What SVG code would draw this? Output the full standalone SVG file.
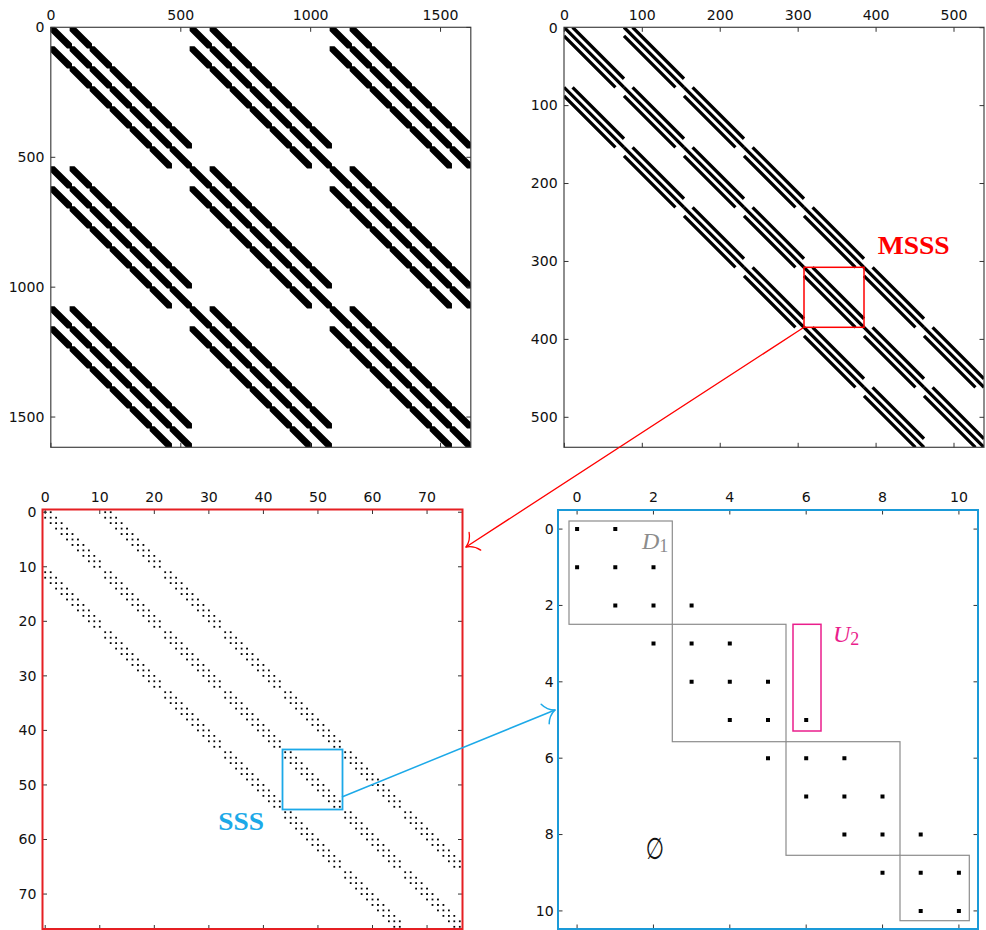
<svg xmlns="http://www.w3.org/2000/svg" xmlns:xlink="http://www.w3.org/1999/xlink" width="986" height="930" viewBox="0 0 986 930">
<style>
.tl{font-family:"DejaVu Sans","Liberation Sans",sans-serif;font-size:14.1px;fill:#111}
.tm{text-anchor:middle}
.te{text-anchor:end}
.frame{fill:none;stroke:#444;stroke-width:1.2}
.tick{fill:none;stroke:#333;stroke-width:1}
</style>
<defs>
<clipPath id="c1"><rect x="50.8" y="27.3" width="420" height="420"/></clipPath>
<clipPath id="c2"><rect x="564" y="27.3" width="420" height="420"/></clipPath>
<path id="hx" d="M0,0H12.5L77,64.5V77H64.5L0,12.5Z"/>
<g id="b539">
<use xlink:href="#hx"/><use xlink:href="#hx" x="77" y="77"/><use xlink:href="#hx" x="154" y="154"/><use xlink:href="#hx" x="231" y="231"/><use xlink:href="#hx" x="308" y="308"/><use xlink:href="#hx" x="385" y="385"/><use xlink:href="#hx" x="462" y="462"/>
<use xlink:href="#hx" x="77" y="0"/><use xlink:href="#hx" x="154" y="77"/><use xlink:href="#hx" x="231" y="154"/><use xlink:href="#hx" x="308" y="231"/><use xlink:href="#hx" x="385" y="308"/><use xlink:href="#hx" x="462" y="385"/>
<use xlink:href="#hx" x="0" y="77"/><use xlink:href="#hx" x="77" y="154"/><use xlink:href="#hx" x="154" y="231"/><use xlink:href="#hx" x="231" y="308"/><use xlink:href="#hx" x="308" y="385"/><use xlink:href="#hx" x="385" y="462"/>
</g>
<path id="l77" d="M0,0L77,77M11,0L77,66M0,11L66,77"/>
<pattern id="pd" patternUnits="userSpaceOnUse" x="0" y="0" width="1" height="1"><rect x="0.335" y="0.335" width="0.33" height="0.33" fill="#000"/></pattern>
</defs>
<rect width="986" height="930" fill="#fff"/>

<g id="panel1">
<g clip-path="url(#c1)">
<g transform="translate(50.8,27.3) scale(0.25974)" fill="#000" stroke="#000" stroke-width="9" stroke-linejoin="miter">
<use xlink:href="#b539"/><use xlink:href="#b539" x="539"/><use xlink:href="#b539" x="1078"/>
<use xlink:href="#b539" y="539"/><use xlink:href="#b539" x="539" y="539"/><use xlink:href="#b539" x="1078" y="539"/>
<use xlink:href="#b539" y="1078"/><use xlink:href="#b539" x="539" y="1078"/><use xlink:href="#b539" x="1078" y="1078"/>
</g>
</g>
<rect class="frame" x="50.8" y="27.3" width="420" height="420"/>
<path class="tick" d="M50.93,27.3v4.5M180.8,27.3v4.5M310.67,27.3v4.5M440.54,27.3v4.5M50.93,447.3v-4.5M180.8,447.3v-4.5M310.67,447.3v-4.5M440.54,447.3v-4.5M50.8,27.43h4.5M50.8,157.3h4.5M50.8,287.17h4.5M50.8,417.04h4.5M470.8,27.43h-4.5M470.8,157.3h-4.5M470.8,287.17h-4.5M470.8,417.04h-4.5"/>
<g class="tl tm"><text x="50.93" y="20.3">0</text><text x="180.8" y="20.3">500</text><text x="310.67" y="20.3">1000</text><text x="440.54" y="20.3">1500</text></g>
<g class="tl te"><text x="44.5" y="32.2">0</text><text x="44.5" y="162.1">500</text><text x="44.5" y="292">1000</text><text x="44.5" y="421.8">1500</text></g>
</g>

<g id="panel2">
<g clip-path="url(#c2)">
<g transform="translate(564,27.3) scale(0.77922)" fill="none" stroke="#000" stroke-width="4.2" stroke-linecap="butt">
<use xlink:href="#l77"/><use xlink:href="#l77" x="77" y="77"/><use xlink:href="#l77" x="154" y="154"/><use xlink:href="#l77" x="231" y="231"/><use xlink:href="#l77" x="308" y="308"/><use xlink:href="#l77" x="385" y="385"/><use xlink:href="#l77" x="462" y="462"/>
<use xlink:href="#l77" x="77" y="0"/><use xlink:href="#l77" x="154" y="77"/><use xlink:href="#l77" x="231" y="154"/><use xlink:href="#l77" x="308" y="231"/><use xlink:href="#l77" x="385" y="308"/><use xlink:href="#l77" x="462" y="385"/>
<use xlink:href="#l77" x="0" y="77"/><use xlink:href="#l77" x="77" y="154"/><use xlink:href="#l77" x="154" y="231"/><use xlink:href="#l77" x="231" y="308"/><use xlink:href="#l77" x="308" y="385"/><use xlink:href="#l77" x="385" y="462"/>
</g>
</g>
<rect class="frame" x="564" y="27.3" width="420" height="420"/>
<path class="tick" d="M564.39,27.3v4.5M642.31,27.3v4.5M720.23,27.3v4.5M798.16,27.3v4.5M876.08,27.3v4.5M954,27.3v4.5M564.39,447.3v-4.5M642.31,447.3v-4.5M720.23,447.3v-4.5M798.16,447.3v-4.5M876.08,447.3v-4.5M954,447.3v-4.5M564,27.69h4.5M564,105.61h4.5M564,183.53h4.5M564,261.46h4.5M564,339.38h4.5M564,417.3h4.5M984,27.69h-4.5M984,105.61h-4.5M984,183.53h-4.5M984,261.46h-4.5M984,339.38h-4.5M984,417.3h-4.5"/>
<g class="tl tm"><text x="564.39" y="20.3">0</text><text x="642.31" y="20.3">100</text><text x="720.23" y="20.3">200</text><text x="798.16" y="20.3">300</text><text x="876.08" y="20.3">400</text><text x="954" y="20.3">500</text></g>
<g class="tl te"><text x="557.7" y="32.5">0</text><text x="557.7" y="110.4">100</text><text x="557.7" y="188.3">200</text><text x="557.7" y="266.3">300</text><text x="557.7" y="344.2">400</text><text x="557.7" y="422.1">500</text></g>
<rect id="msss-box" x="804" y="267.3" width="60" height="60" fill="none" stroke="#f00" stroke-width="1.5"/>
<text x="877.7" y="254" font-family="Liberation Serif,serif" font-weight="bold" font-size="25" textLength="72" lengthAdjust="spacingAndGlyphs" fill="#f00">MSSS</text>
</g>

<g id="panel3">
<g transform="translate(42.5,509.5) scale(5.45454)">
<path fill="url(#pd)" d="M0,0h1.5l9.5,9.5v1.5h-1.5l-9.5,-9.5zM11,11h1.5l9.5,9.5v1.5h-1.5l-9.5,-9.5zM22,22h1.5l9.5,9.5v1.5h-1.5l-9.5,-9.5zM33,33h1.5l9.5,9.5v1.5h-1.5l-9.5,-9.5zM44,44h1.5l9.5,9.5v1.5h-1.5l-9.5,-9.5zM55,55h1.5l9.5,9.5v1.5h-1.5l-9.5,-9.5zM66,66h1.5l9.5,9.5v1.5h-1.5l-9.5,-9.5zM11,0h1.5l9.5,9.5v1.5h-1.5l-9.5,-9.5zM22,11h1.5l9.5,9.5v1.5h-1.5l-9.5,-9.5zM33,22h1.5l9.5,9.5v1.5h-1.5l-9.5,-9.5zM44,33h1.5l9.5,9.5v1.5h-1.5l-9.5,-9.5zM55,44h1.5l9.5,9.5v1.5h-1.5l-9.5,-9.5zM66,55h1.5l9.5,9.5v1.5h-1.5l-9.5,-9.5zM0,11h1.5l9.5,9.5v1.5h-1.5l-9.5,-9.5zM11,22h1.5l9.5,9.5v1.5h-1.5l-9.5,-9.5zM22,33h1.5l9.5,9.5v1.5h-1.5l-9.5,-9.5zM33,44h1.5l9.5,9.5v1.5h-1.5l-9.5,-9.5zM44,55h1.5l9.5,9.5v1.5h-1.5l-9.5,-9.5zM55,66h1.5l9.5,9.5v1.5h-1.5l-9.5,-9.5z"/>
</g>
<path class="tick" d="M45.23,509.5v4.5M99.77,509.5v4.5M154.32,509.5v4.5M208.86,509.5v4.5M263.41,509.5v4.5M317.95,509.5v4.5M372.5,509.5v4.5M427.05,509.5v4.5M45.23,929.5v-4.5M99.77,929.5v-4.5M154.32,929.5v-4.5M208.86,929.5v-4.5M263.41,929.5v-4.5M317.95,929.5v-4.5M372.5,929.5v-4.5M427.05,929.5v-4.5M42.5,512.23h4.5M42.5,566.77h4.5M42.5,621.32h4.5M42.5,675.86h4.5M42.5,730.41h4.5M42.5,784.95h4.5M42.5,839.5h4.5M42.5,894.05h4.5M462.5,512.23h-4.5M462.5,566.77h-4.5M462.5,621.32h-4.5M462.5,675.86h-4.5M462.5,730.41h-4.5M462.5,784.95h-4.5M462.5,839.5h-4.5M462.5,894.05h-4.5"/>
<rect x="42.5" y="509.5" width="420" height="419.5" fill="none" stroke="#e51f23" stroke-width="2"/>
<g class="tl tm"><text x="45.23" y="501.7">0</text><text x="99.77" y="501.7">10</text><text x="154.32" y="501.7">20</text><text x="208.86" y="501.7">30</text><text x="263.41" y="501.7">40</text><text x="317.95" y="501.7">50</text><text x="372.5" y="501.7">60</text><text x="427.05" y="501.7">70</text></g>
<g class="tl te"><text x="36.4" y="517">0</text><text x="36.4" y="571.6">10</text><text x="36.4" y="626.1">20</text><text x="36.4" y="680.7">30</text><text x="36.4" y="735.2">40</text><text x="36.4" y="789.8">50</text><text x="36.4" y="844.3">60</text><text x="36.4" y="898.9">70</text></g>
<rect id="sss-box" x="282.5" y="749.5" width="60" height="60" fill="none" stroke="#1ca9e8" stroke-width="1.8"/>
<text x="218.3" y="830" font-family="Liberation Serif,serif" font-weight="bold" font-size="25" textLength="45.7" lengthAdjust="spacingAndGlyphs" fill="#1ca9e8">SSS</text>
</g>

<g id="panel4">
<path fill="#000" d="M575.1,527.1h4v4h-4zM613.3,527.1h4v4h-4zM575.1,565.3h4v4h-4zM613.3,565.3h4v4h-4zM651.5,565.3h4v4h-4zM613.3,603.5h4v4h-4zM651.5,603.5h4v4h-4zM689.6,603.5h4v4h-4zM651.5,641.6h4v4h-4zM689.6,641.6h4v4h-4zM727.8,641.6h4v4h-4zM689.6,679.8h4v4h-4zM727.8,679.8h4v4h-4zM766,679.8h4v4h-4zM727.8,718h4v4h-4zM766,718h4v4h-4zM804.2,718h4v4h-4zM766,756.2h4v4h-4zM804.2,756.2h4v4h-4zM842.4,756.2h4v4h-4zM804.2,794.4h4v4h-4zM842.4,794.4h4v4h-4zM880.5,794.4h4v4h-4zM842.4,832.5h4v4h-4zM880.5,832.5h4v4h-4zM918.7,832.5h4v4h-4zM880.5,870.7h4v4h-4zM918.7,870.7h4v4h-4zM956.9,870.7h4v4h-4zM918.7,908.9h4v4h-4zM956.9,908.9h4v4h-4z"/>
<g fill="none" stroke="#8c8c8c" stroke-width="1.2">
<rect x="569" y="521" width="103.3" height="103.3"/>
<rect x="672.3" y="624.3" width="113.7" height="117.4"/>
<rect x="786" y="741.7" width="114" height="113.6"/>
<rect x="900" y="855.3" width="69.3" height="65.4"/>
</g>
<rect x="793" y="624.3" width="28" height="106.7" fill="none" stroke="#ea1e8c" stroke-width="1.5"/>
<text x="642" y="549.3" font-family="Liberation Serif,serif" font-style="italic" font-size="24" fill="#8c8c8c">D<tspan font-style="normal" font-size="18" dy="2.5">1</tspan></text>
<text x="833" y="641.7" font-family="Liberation Serif,serif" font-style="italic" font-size="24" fill="#ea1e8c">U<tspan font-style="normal" font-size="18" dy="3.3">2</tspan></text>
<text transform="translate(655,859) scale(0.7,1)" x="0" y="0" font-family="DejaVu Serif,DejaVu Sans,serif" font-size="30" text-anchor="middle" fill="#111">∅</text>
<path class="tick" d="M577.09,510v4.5M653.45,510v4.5M729.82,510v4.5M806.18,510v4.5M882.55,510v4.5M958.91,510v4.5M577.09,929v-4.5M653.45,929v-4.5M729.82,929v-4.5M806.18,929v-4.5M882.55,929v-4.5M958.91,929v-4.5M558,529.09h4.5M558,605.45h4.5M558,681.82h4.5M558,758.18h4.5M558,834.55h4.5M558,910.91h4.5M978,529.09h-4.5M978,605.45h-4.5M978,681.82h-4.5M978,758.18h-4.5M978,834.55h-4.5M978,910.91h-4.5"/>
<rect x="558" y="510" width="420" height="419" fill="none" stroke="#1a9ad8" stroke-width="2"/>
<g class="tl tm"><text x="577.09" y="501.7">0</text><text x="653.45" y="501.7">2</text><text x="729.82" y="501.7">4</text><text x="806.18" y="501.7">6</text><text x="882.55" y="501.7">8</text><text x="958.91" y="501.7">10</text></g>
<g class="tl te"><text x="553.8" y="533.9">0</text><text x="553.8" y="610.3">2</text><text x="553.8" y="686.6">4</text><text x="553.8" y="763">6</text><text x="553.8" y="839.4">8</text><text x="553.8" y="915.7">10</text></g>
</g>

<g id="connectors" fill="none" stroke-linecap="round" stroke-linejoin="round">
<path d="M804,327.3L466,547" stroke="#f00" stroke-width="1.3"/>
<path d="M469.1,532.3Q470.65,540.39 466,547Q473.93,545.43 480.7,550.1" stroke="#f00" stroke-width="1.3"/>
<path d="M342.5,796.7L555,710" stroke="#1ca9e8" stroke-width="1.5"/>
<path d="M541.17,704.19Q546.93,710.05 555,710Q549.19,715.61 549.19,723.83" stroke="#1ca9e8" stroke-width="1.5"/>
</g>
</svg>
